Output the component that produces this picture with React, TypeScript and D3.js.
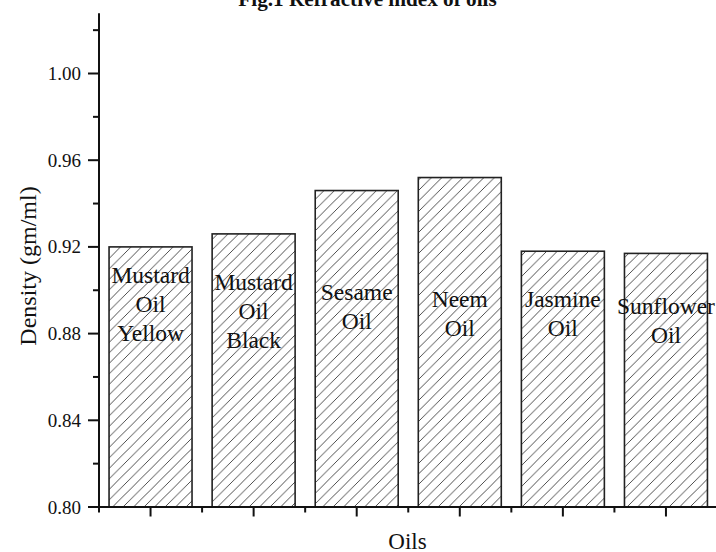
import React from "react";
import * as d3 from "d3";

const categories = ["Mustard Oil Yellow", "Mustard Oil Black", "Sesame Oil", "Neem Oil", "Jasmine Oil", "Sunflower Oil"];
const values = [0.920, 0.926, 0.946, 0.952, 0.918, 0.917];
const barLabelLines = [
  ["Mustard", "Oil", "Yellow"],
  ["Mustard", "Oil", "Black"],
  ["Sesame", "Oil"],
  ["Neem", "Oil"],
  ["Jasmine", "Oil"],
  ["Sunflower", "Oil"],
];
// first-line baseline of each in-bar label, in data units
const labelAnchors = [0.9034, 0.9001, 0.8954, 0.8924, 0.8923, 0.8890];
const yMajorTicks = [0.80, 0.84, 0.88, 0.92, 0.96, 1.00];
const yMinorTicks = [0.82, 0.86, 0.90, 0.94, 0.98, 1.02];
const titleText = "Fig.1 Refractive index of oils";
const xTitle = "Oils";
const yTitle = "Density (gm/ml)";

const W = 716;
const H = 552;
const serif = "'Liberation Serif', 'Times New Roman', serif";

export default function App() {
  const x = d3.scaleLinear().domain([0.5, 6.5]).range([99, 717.5]);
  const y = d3.scaleLinear().domain([0.8, 1.0]).range([507, 73.5]);
  const yTop = y(1.0278);
  const step = x(2) - x(1);
  const barW = step * 0.805;
  const hw = 10.5;
  const lineGap = 29;

  const majorX = d3.range(1, 7);
  const minorX = d3.range(0, 7).map((i) => i + 0.5);

  return (
    <svg width={W} height={H} style={{ position: "absolute", left: 0, top: 0, background: "#fff" }}>
      <defs>
        <pattern id="hatch" patternUnits="userSpaceOnUse" width={hw} height={hw}>
          <path
            d={`M-1,1 l2,-2 M0,${hw} l${hw},${-hw} M${hw - 1},${hw + 1} l2,-2`}
            stroke="#3a3a3a"
            strokeWidth={0.9}
          />
        </pattern>
      </defs>
      <rect width={W} height={H} fill="#fff" />

      {/* bars */}
      {values.map((v, i) => {
        const cx = x(i + 1);
        return (
          <g key={categories[i]}>
            <rect x={cx - barW / 2} y={y(v)} width={barW} height={y(0.8) - y(v)} fill="#fff" />
            <rect
              x={cx - barW / 2}
              y={y(v)}
              width={barW}
              height={y(0.8) - y(v)}
              fill="url(#hatch)"
              stroke="#222"
              strokeWidth={1.6}
            />
            {barLabelLines[i].map((t, j) => (
              <text
                key={j}
                x={cx}
                y={y(labelAnchors[i]) + j * lineGap}
                textAnchor="middle"
                fontFamily={serif}
                fontSize={23.5}
                fill="#111"
              >
                {t}
              </text>
            ))}
          </g>
        );
      })}

      {/* y axis */}
      <line x1={99} x2={99} y1={yTop} y2={508} stroke="#111" strokeWidth={2} />
      {yMajorTicks.map((t) => (
        <g key={t}>
          <line x1={88} x2={99} y1={y(t)} y2={y(t)} stroke="#111" strokeWidth={2} />
          <text x={81} y={y(t) + 6.5} textAnchor="end" fontFamily={serif} fontSize={19} fill="#111">
            {d3.format(".2f")(t)}
          </text>
        </g>
      ))}
      {yMinorTicks.map((t) => (
        <line key={t} x1={93} x2={99} y1={y(t)} y2={y(t)} stroke="#111" strokeWidth={2} />
      ))}

      {/* x axis */}
      <line x1={88} x2={W} y1={507} y2={507} stroke="#111" strokeWidth={2} />
      {majorX.map((t) => (
        <line key={t} x1={x(t)} x2={x(t)} y1={507} y2={516.5} stroke="#111" strokeWidth={2} />
      ))}
      {minorX.map((t) => (
        <line key={t} x1={x(t)} x2={x(t)} y1={507} y2={512.5} stroke="#111" strokeWidth={2} />
      ))}

      {/* titles */}
      <text x={367.5} y={6} textAnchor="middle" fontFamily={serif} fontWeight="bold" fontSize={21.2} fill="#111">
        {titleText}
      </text>
      <text x={407.5} y={549} textAnchor="middle" fontFamily={serif} fontSize={23} fill="#111">
        {xTitle}
      </text>
      <text
        transform={`translate(36,266) rotate(-90)`}
        textAnchor="middle"
        fontFamily={serif}
        fontSize={24}
        fill="#111"
      >
        {yTitle}
      </text>
    </svg>
  );
}
